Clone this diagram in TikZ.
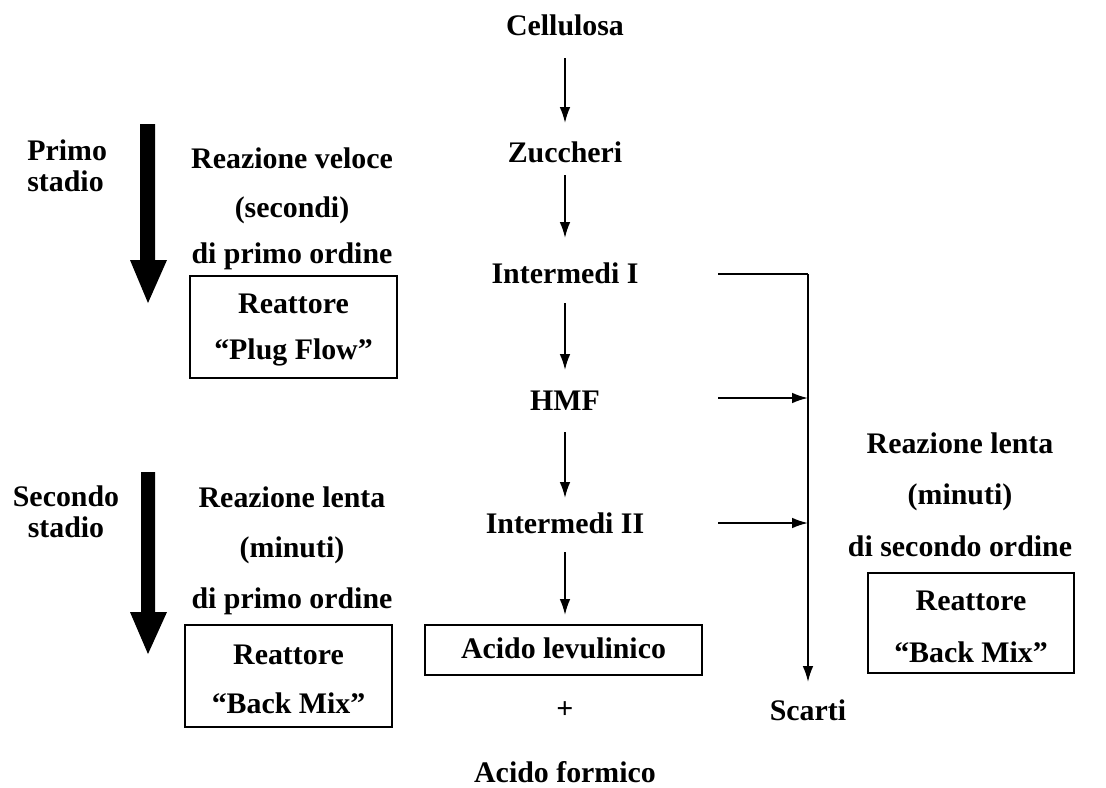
\documentclass[tikz,border=0pt]{standalone}
\usepackage{fontspec}
\setmainfont{Liberation Serif}
\usetikzlibrary{arrows.meta}
\begin{document}
\begin{tikzpicture}[x=0.02cm,y=-0.02cm,
  lbl/.style={inner sep=0pt,anchor=base,font=\fontsize{17}{20}\selectfont\bfseries},
  stage/.style={inner sep=0pt,font=\fontsize{17}{17.5}\selectfont\bfseries},
  boxed/.style={draw,line width=1.1pt,inner sep=0pt},
  flow/.style={line width=1pt,-{Latex[length=9pt,width=6pt]}},
  wire/.style={line width=1pt},
  bigarrow/.style={fill=black,draw=none}]
\useasboundingbox (0,0) rectangle (1106,788);
% central chain
\node[lbl] (cell) at (565,35) {Cellulosa};
\node[lbl] (zuc) at (565,162) {Zuccheri};
\node[lbl] (int1) at (565,283) {Intermedi I};
\node[lbl] (hmf) at (565,410) {HMF};
\node[lbl] (int2) at (565,533) {Intermedi II};
\node[boxed,minimum width=5.54cm,minimum height=1.0cm] (levbox) at (563.5,650) {};
\node[lbl] (levtxt) at (563.5,658) {Acido levulinico};
\node[lbl] (plus) at (565,718) {+};
\node[lbl] (form) at (565,782) {Acido formico};
\coordinate (a1s) at (565,58); \coordinate (a1e) at (565,123);
\coordinate (a2s) at (565,175); \coordinate (a2e) at (565,238);
\coordinate (a3s) at (565,303); \coordinate (a3e) at (565,370);
\coordinate (a4s) at (565,432); \coordinate (a4e) at (565,498);
\coordinate (a5s) at (565,552); \coordinate (a5e) at (565,615);
\draw[flow] (a1s) -- (a1e);
\draw[flow] (a2s) -- (a2e);
\draw[flow] (a3s) -- (a3e);
\draw[flow] (a4s) -- (a4e);
\draw[flow] (a5s) -- (a5e);
% right collector
\node[lbl] (scarti) at (808,720) {Scarti};
\coordinate (c1) at (718,274); \coordinate (k1) at (808,274);
\coordinate (c2) at (718,398); \coordinate (k2) at (808,398);
\coordinate (c3) at (718,523); \coordinate (k3) at (808,523);
\coordinate (kend) at (808,682);
\draw[wire] (c1) -- (k1);
\draw[flow] (k1) -- (kend);
\draw[flow] (c2) -- (k2);
\draw[flow] (c3) -- (k3);
% first stage
\node[stage,align=left,anchor=west] (primo) at (27,166) {Primo\\stadio};
\fill[bigarrow] (140,124) -- (155,124) -- (155,260) -- (167,260) -- (148,303) -- (130,260) -- (140,260) -- cycle;
\node[lbl] (rv1) at (292,168) {Reazione veloce};
\node[lbl] (rv2) at (292,217) {(secondi)};
\node[lbl] (rv3) at (292,263) {di primo ordine};
\node[boxed,minimum width=4.14cm,minimum height=2.04cm] (pfbox) at (293.5,327) {};
\node[lbl] (pf1) at (293.5,313) {Reattore};
\node[lbl] (pf2) at (293.5,359) {“Plug Flow”};
% second stage
\node[stage,align=center] (secondo) at (66,511.5) {Secondo\\stadio};
\fill[bigarrow] (141,472) -- (155,472) -- (155,612) -- (167,612) -- (148,654) -- (130,612) -- (141,612) -- cycle;
\node[lbl] (rl1) at (292,507) {Reazione lenta};
\node[lbl] (rl2) at (292,557) {(minuti)};
\node[lbl] (rl3) at (292,608) {di primo ordine};
\node[boxed,minimum width=4.14cm,minimum height=2.04cm] (bmbox) at (288.5,676) {};
\node[lbl] (bm1) at (288.5,664) {Reattore};
\node[lbl] (bm2) at (288.5,713) {“Back Mix”};
% right side
\node[lbl] (rr1) at (960,453) {Reazione lenta};
\node[lbl] (rr2) at (960,504) {(minuti)};
\node[lbl] (rr3) at (960,556) {di secondo ordine};
\node[boxed,minimum width=4.12cm,minimum height=2.0cm] (bm2box) at (971,623) {};
\node[lbl] (bmr1) at (971,610) {Reattore};
\node[lbl] (bmr2) at (971,662) {“Back Mix”};
\end{tikzpicture}
\end{document}
